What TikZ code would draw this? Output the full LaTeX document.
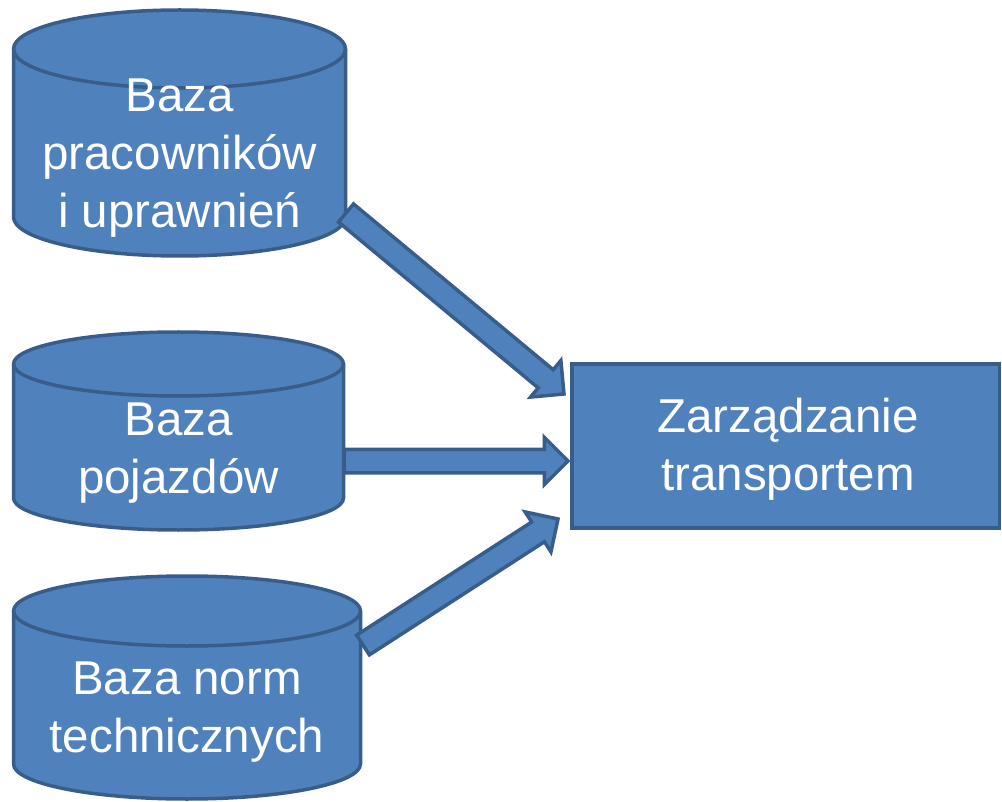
\documentclass[tikz,border=0pt]{standalone}
\usepackage{fontspec}
\setmainfont{Liberation Sans}
\usetikzlibrary{calc,shapes.arrows}
\definecolor{cfill}{HTML}{4F81BD}
\definecolor{cline}{HTML}{385D8A}
\tikzset{
  shapestyle/.style={fill=cfill, draw=cline, line width=3.5pt, line join=round},
  lbl/.style={text=white, font=\fontsize{47.5}{58}\selectfont, align=center, inner sep=0pt, anchor=base},
  blk/.style={single arrow, draw=cline, fill=cfill, line width=3.5pt, line join=miter,
    inner xsep=0pt, inner ysep=10pt, minimum width=0pt, outer sep=0pt,
    single arrow head extend=12pt, single arrow tip angle=90, single arrow head indent=0pt,
    anchor=tail}
}
\newcommand\blockarr[2]{%
  \path let \p1=(#1), \p2=(#2), \n1={atan2(\y2-\y1,\x2-\x1)}, \n2={veclen(\x2-\x1,\y2-\y1)} in
    node[blk, rotate=\n1, minimum height=\n2] at (\p1) {};}
% cylinder: #1 left x, #2 right x, #3 top centre y, #4 bottom centre y, #5 y radius
\newcommand\dbcyl[5]{%
  \pgfmathsetmacro\crx{(#2-#1)/2}%
  \path[shapestyle] (#1,#3) -- (#1,#4) arc[start angle=180,end angle=0,x radius=\crx,y radius=#5]
     -- (#2,#3) arc[start angle=0,end angle=-180,x radius=\crx,y radius=#5] -- cycle;
  \draw[shapestyle, fill=none] (#1,#3) arc[start angle=180,end angle=0,x radius=\crx,y radius=#5];}
\begin{document}
\begin{tikzpicture}[x=1pt,y=-1pt]
\useasboundingbox (0,0) rectangle (1002,802);
% databases
\dbcyl{13.5}{345.5}{49}{217}{39}
\dbcyl{13.5}{343.5}{364}{498}{32}
\dbcyl{13.5}{360.5}{611}{764}{35}
\node[lbl] (db1) at (179.5,228) {Baza\\pracowników\\i uprawnień};
\node[lbl] (db2) at (178.5,493) {Baza\\pojazdów};
\node[lbl] (db3) at (187,752) {Baza norm\\technicznych};
% target
\path[shapestyle, line join=miter] (572,364) rectangle (999.5,528);
\node[lbl] (zt) at (788,490) {Zarządzanie\\transportem};
% arrows
\coordinate (a1s) at (346,213);
\coordinate (a1e) at (564,394);
\coordinate (a2s) at (344,461);
\coordinate (a2e) at (568,461);
\coordinate (a3s) at (363,645);
\coordinate (a3e) at (558,519);
\blockarr{a1s}{a1e}
\blockarr{a2s}{a2e}
\blockarr{a3s}{a3e}
\end{tikzpicture}
\end{document}
